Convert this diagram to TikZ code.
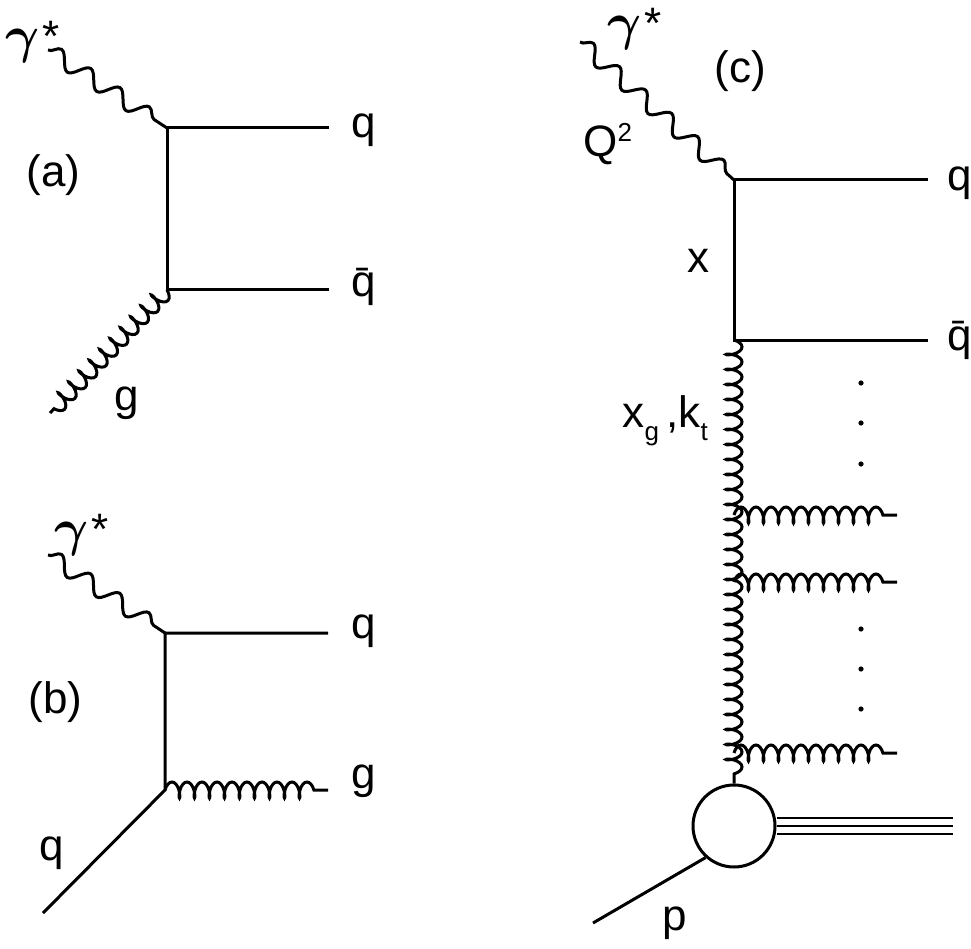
\documentclass[tikz,border=0pt]{standalone}
\usepackage{fontspec}
\setmainfont{Liberation Sans}
\usepackage{tikz}
\usetikzlibrary{decorations.pathmorphing,shapes}
\newcommand{\supsc}[1]{\raisebox{15pt}{\fontsize{26}{26}\selectfont #1}}
\newcommand{\subsc}[1]{\raisebox{-13pt}{\fontsize{26}{26}\selectfont #1}}
\newcommand{\gstar}{\scalebox{2.1}{\fontsize{24}{24}\selectfont\boldmath$\gamma$}\kern3pt\raisebox{1pt}{*}}
\tikzset{
  photon/.style={ decorate, decoration={snake, segment length=35pt, amplitude=8pt} }
}
\tikzset{
  gluon/.style={ decorate, decoration={coil, aspect=0.4, segment length=15pt, amplitude=8pt} }
}
\tikzset{
  lbl/.style={ anchor=base west, inner sep=0pt, font=\fontsize{44}{48}\selectfont }
}
\tikzset{
  blob/.style={ draw, circle, minimum size=82pt, inner sep=0pt }
}
\begin{document}
\begin{tikzpicture}[y=-1pt, x=1pt, line width=3pt]
  \useasboundingbox (0,0) rectangle (971,949);
  % (a)
  \coordinate (pa) at (48,50);
  \coordinate (va1) at (167,128);
  \coordinate (va2) at (167,290);
  \coordinate (qa1) at (329,128);
  \coordinate (qa2) at (329,290);
  \coordinate (ga) at (50,413);
  \draw[photon] (pa) -- (va1);
  \draw (qa1) -- (va1) -- (va2) -- (qa2);
  \draw[gluon] (va2) -- (ga);
  \node[lbl] (gama) at (4,53) {\gstar};
  \node[lbl] (labela) at (25,187) {(a)};
  \node[lbl] (qla1) at (350,138) {q};
  \node[lbl] (qla2) at (350,297) {\={q}};
  \node[lbl] (gla) at (113,410) {g};
  % (b)
  \coordinate (pb) at (48,555);
  \coordinate (vb1) at (165,633);
  \coordinate (vb2) at (165,790);
  \coordinate (qb1) at (328,633);
  \coordinate (gb) at (328,790);
  \coordinate (qb2) at (43,913);
  \draw[photon] (pb) -- (vb1);
  \draw (qb1) -- (vb1) -- (vb2) -- (qb2);
  \draw[gluon] (vb2) -- (gb);
  \node[lbl] (gamb) at (53,545) {\gstar};
  \node[lbl] (labelb) at (27,713) {(b)};
  \node[lbl] (qlb1) at (350,638) {q};
  \node[lbl] (glb) at (350,788) {g};
  \node[lbl] (qlb2) at (38,860) {q};
  % (c)
  \coordinate (pc) at (580,42);
  \coordinate (vc1) at (734,180);
  \coordinate (vc2) at (734,340);
  \coordinate (qc1) at (928,180);
  \coordinate (qc2) at (928,340);
  \node[blob] (prot) at (734,826) {};
  \draw[photon] (pc) -- (vc1);
  \draw (qc1) -- (vc1) -- (vc2) -- (qc2);
  \draw[gluon] (vc2) -- (prot.north);
  \foreach \n/\y in {1/515, 2/582, 3/753} {
    \coordinate (r\n) at (734,\y);
    \coordinate (e\n) at (897,\y);
    \draw[gluon] (r\n) -- (e\n);
  }
  \foreach \y in {383, 423, 464, 629, 669, 709}
    \fill (861,\y) circle (2.6pt);
  \coordinate (pend) at (953,826);
  \coordinate (pin) at (593,923);
  \foreach \s in {-8, 0, 8}
    \draw[line width=2.6pt] ([yshift=\s pt]prot.east) -- ([yshift=\s pt]pend);
  \draw (prot.228) -- (pin);
  \node[lbl] (gamc) at (606,40) {\gstar};
  \node[lbl] (labelc) at (713,83) {(c)};
  \node[lbl] (q2) at (582,157) {Q\supsc{2}};
  \node[lbl] (xl) at (686,273) {x};
  \node[lbl] (xg) at (621,427) {x\subsc{g}\,,k\subsc{t}};
  \node[lbl] (qlc1) at (946,191) {q};
  \node[lbl] (qlc2) at (946,350) {\={q}};
  \node[lbl] (pl) at (661,930) {p};
\end{tikzpicture}
\end{document}
